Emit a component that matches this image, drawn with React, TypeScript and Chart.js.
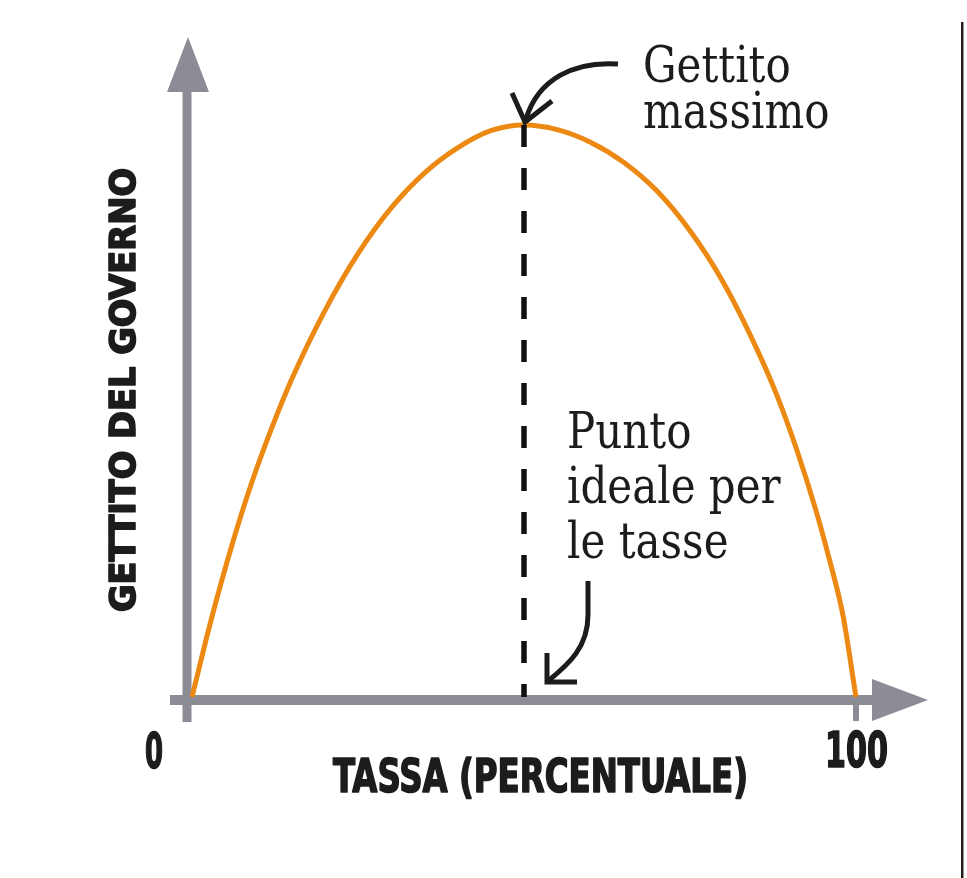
import React, { useEffect, useRef } from "react";
import { Chart, registerables } from "chart.js";

Chart.register(...registerables);

// Laffer curve: government revenue as a function of the tax rate (0–100 %)
const taxRate = [0, 3, 6, 9, 12, 15, 20, 25, 30, 35, 40, 45, 50, 55, 60, 65, 70, 75, 80, 85, 88, 91, 94, 96, 98, 100];
const revenue = [0, 14, 26.5, 37.5, 47, 55.5, 67.5, 77.5, 85.5, 91.6, 96, 99, 100, 99.2, 97, 93.5, 88.5, 81.5, 72.5, 61, 53, 43.5, 32.5, 24, 14.5, 0];

const idealRate = 50;
const maxRevenue = 100;

const xTickLabels = ["0", "100"];
const xAxisTitle = "TASSA (PERCENTUALE)";
const yAxisTitle = "GETTITO DEL GOVERNO";
const peakNote = ["Gettito", "massimo"];
const idealNote = ["Punto", "ideale per", "le tasse"];

const AXIS_GREY = "#8b8c96";
const CURVE_ORANGE = "#ec8912";
const INK = "#1c1c1c";
const HEAVY_FONT = '"DejaVu Sans Condensed", "DejaVu Sans"';

// Heavy condensed text squeezed horizontally to a given width
function drawFitted(ctx: CanvasRenderingContext2D, text: string, x: number, y: number, width: number, size: number) {
  ctx.save();
  ctx.font = `bold ${size}px ${HEAVY_FONT}`;
  const natural = ctx.measureText(text).width;
  ctx.translate(x, y);
  ctx.scale(width / natural, 1);
  ctx.textAlign = "left";
  ctx.textBaseline = "alphabetic";
  ctx.lineWidth = 1.6;
  ctx.lineJoin = "round";
  ctx.strokeText(text, 0, 0);
  ctx.fillText(text, 0, 0);
  ctx.restore();
}

// Light serif note, stretched a little vertically
function drawNote(ctx: CanvasRenderingContext2D, text: string, x: number, y: number) {
  ctx.save();
  ctx.translate(x, y);
  ctx.scale(1, 1.18);
  ctx.font = '42px "DejaVu Serif"';
  ctx.textAlign = "left";
  ctx.textBaseline = "alphabetic";
  ctx.fillText(text, 0, 0);
  ctx.restore();
}

const decorPlugin = {
  id: "lafferDecor",
  beforeDatasetsDraw(chart: any) {
    const { ctx, scales } = chart;
    const x0 = scales.x.getPixelForValue(0);
    const x100 = scales.x.getPixelForValue(100);
    const y0 = scales.y.getPixelForValue(0);
    const yTop = scales.y.getPixelForValue(maxRevenue);
    ctx.save();
    ctx.fillStyle = AXIS_GREY;
    // vertical axis bar + arrow head
    const vx = x0 - 5;
    ctx.fillRect(vx - 4.5, yTop - 33, 9, y0 + 25 - (yTop - 33));
    ctx.beginPath();
    ctx.moveTo(vx + 1, yTop - 88);
    ctx.lineTo(vx + 22, yTop - 33);
    ctx.lineTo(vx - 20, yTop - 33);
    ctx.closePath();
    ctx.fill();
    // horizontal axis bar + arrow head
    const hy = y0 + 3;
    ctx.fillRect(x0 - 22, hy - 5, x100 + 16 - (x0 - 22), 10);
    ctx.beginPath();
    ctx.moveTo(x100 + 16, hy - 21);
    ctx.lineTo(x100 + 72, hy);
    ctx.lineTo(x100 + 16, hy + 21);
    ctx.closePath();
    ctx.fill();
    // tick at 100
    ctx.fillRect(x100 - 3, hy, 6, 21);
    ctx.restore();
  },
  afterDraw(chart: any) {
    const { ctx, scales } = chart;
    const x0 = scales.x.getPixelForValue(0);
    const x100 = scales.x.getPixelForValue(100);
    const y0 = scales.y.getPixelForValue(0);
    const px = scales.x.getPixelForValue(idealRate);
    const py = scales.y.getPixelForValue(maxRevenue);
    ctx.save();

    // serif annotations
    ctx.fillStyle = INK;
    ctx.strokeStyle = INK;
    peakNote.forEach((t, i) => drawNote(ctx, t, px + 119, py - 43 + i * 46));
    idealNote.forEach((t, i) => drawNote(ctx, t, px + 43, y0 - 249 + i * 55));

    // curved pointer to the maximum
    ctx.lineWidth = 5;
    ctx.lineCap = "butt";
    ctx.lineJoin = "miter";
    ctx.beginPath();
    ctx.moveTo(px + 94, py - 61);
    ctx.bezierCurveTo(px + 50, py - 64, px + 14, py - 46, px + 2, py - 6);
    ctx.stroke();
    ctx.beginPath();
    ctx.moveTo(px - 12, py - 32);
    ctx.lineTo(px + 1, py - 3);
    ctx.lineTo(px + 28, py - 24);
    ctx.stroke();

    // curved pointer to the ideal rate
    ctx.beginPath();
    ctx.moveTo(px + 64, y0 - 116);
    ctx.lineTo(px + 64, y0 - 82);
    ctx.bezierCurveTo(px + 64, y0 - 50, px + 45, y0 - 33, px + 24, y0 - 16);
    ctx.stroke();
    ctx.beginPath();
    ctx.moveTo(px + 23, y0 - 44);
    ctx.lineTo(px + 23, y0 - 15);
    ctx.lineTo(px + 53, y0 - 15);
    ctx.stroke();

    // heavy condensed labels
    drawFitted(ctx, xTickLabels[0], x0 - 47, y0 + 71, 18, 49);
    drawFitted(ctx, xTickLabels[1], x100 - 31, y0 + 70, 63, 49);
    drawFitted(ctx, xAxisTitle, x0 + 141, y0 + 95, 415, 46);

    ctx.save();
    ctx.translate(x0 - 57, (y0 + py) / 2 + 201);
    ctx.rotate(-Math.PI / 2);
    drawFitted(ctx, yAxisTitle, 0, 0, 444, 35);
    ctx.restore();

    // page rule on the right
    ctx.fillStyle = "#222";
    ctx.fillRect(chart.width - 6, 22, 2.5, chart.height - 22);
    ctx.restore();
  },
};

export default function App() {
  const canvasRef = useRef<HTMLCanvasElement | null>(null);

  useEffect(() => {
    const canvas = canvasRef.current;
    if (!canvas) return;
    const chart = new Chart(canvas, {
      type: "line",
      data: {
        datasets: [
          {
            data: [
              { x: idealRate, y: maxRevenue },
              { x: idealRate, y: 0 },
            ],
            borderColor: "#111",
            borderWidth: 5.5,
            borderDash: [22, 21],
            pointRadius: 0,
            clip: false as any,
          },
          {
            data: taxRate.map((x, i) => ({ x, y: revenue[i] })),
            borderColor: CURVE_ORANGE,
            borderWidth: 5,
            pointRadius: 0,
            cubicInterpolationMode: "monotone",
            clip: false as any,
          },
        ],
      },
      options: {
        animation: false,
        responsive: false,
        events: [],
        layout: { padding: { left: 192, right: 111, top: 125, bottom: 181 } },
        scales: {
          x: { type: "linear", min: 0, max: 100, display: false },
          y: { type: "linear", min: 0, max: 100, display: false },
        },
        plugins: { legend: { display: false }, tooltip: { enabled: false } },
      },
      plugins: [decorPlugin],
    });
    return () => chart.destroy();
  }, []);

  return (
    <div style={{ position: "fixed", left: 0, top: 0, width: 967, height: 878, background: "#fff" }}>
      <canvas ref={canvasRef} width={967} height={878} style={{ display: "block" }} />
    </div>
  );
}
